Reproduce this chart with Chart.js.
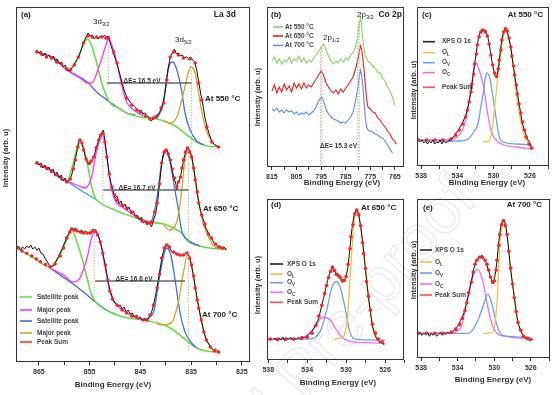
<!DOCTYPE html>
<html>
<head>
<meta charset="utf-8">
<script src="https://cdn.jsdelivr.net/npm/chart.js@4.4.1/dist/chart.umd.min.js"></script>
<style>
  body { margin: 0; background: #fff; width: 554px; height: 395px; overflow: hidden; position: relative; }
  canvas { position: absolute; }
  #wm {
    position: absolute; left: 300px; top: 372px; white-space: nowrap;
    transform: translate(-50%, -50%) rotate(-49deg);
    font: 64px "Liberation Sans", Arial, sans-serif; color: transparent;
    -webkit-text-stroke: 1px #e6e6e6;
  }
</style>
</head>
<body>
<div id="wm">Journal Pre-proof</div>
<canvas id="ca" width="254" height="395" style="left:0;top:0"></canvas>
<canvas id="cb" width="156" height="195" style="left:254px;top:0"></canvas>
<canvas id="cc" width="144" height="195" style="left:410px;top:0"></canvas>
<canvas id="cd" width="156" height="200" style="left:254px;top:195px"></canvas>
<canvas id="ce" width="144" height="200" style="left:410px;top:195px"></canvas>
<script>
const FAM = '"Liberation Sans", Arial, sans-serif';

// ---------- (a) La 3d : [binding energy, intensity] ----------
const laTicks = [825, 830, 835, 840, 845, 850, 855, 860, 865];
const laLabels = [825, 835, 845, 855, 865];

const la550Data = [[865.4,312],[865,309],[864.6,311],[864.2,306],[863.8,309],[863.4,305],[863,307],[862.6,303],[862.2,306],[861.8,301],[861.4,303],[861,298],[860.6,300],[860.2,295],[859.8,297],[859.4,292],[859,291],[858.6,294],[858.2,296],[857.8,300],[857.2,305],[856.6,313],[856.2,319],[855.7,325],[855.3,329],[854.9,326],[854.5,327],[854.1,323],[853.7,325],[853.3,323],[852.9,326],[852.5,324],[852.1,327],[851.7,325],[851.3,326],[850.9,318],[850.3,309],[849.6,298],[849,287],[848.6,279],[848.2,272],[847.7,265],[847.3,262],[846.9,259],[846.5,257],[846.1,255],[845.7,253],[845.3,251],[844.9,252],[844.5,248],[844.1,249],[843.7,246],[843.3,245],[842.9,241],[842.5,243],[842.1,244],[841.7,246],[841.2,250],[840.8,255],[840.4,262],[840,275],[839.6,292],[839.1,305],[838.7,309],[838.3,313],[837.9,308],[837.5,309],[837.1,306],[836.7,307],[836.3,304],[835.9,305],[835.5,303],[835.1,305],[834.7,302],[834.3,300],[833.9,292],[833.5,280],[833.1,268],[832.7,258],[832.3,245],[831.9,236],[831.5,229],[831.1,223],[830.7,219],[830.3,217],[829.9,216],[829.5,214]];
const la550Sum = [[865.4,310],[864.5,308],[863.5,305],[862.5,304],[861.5,300],[860.5,298],[859.5,293],[858.8,292],[858,297],[857.2,305],[856.2,319],[855.4,326],[854.5,325],[853.6,325],[852.6,325],[851.8,324],[851.3,324],[850.3,310],[849.6,299],[848.6,279],[847.7,264],[846.7,257],[845.7,252],[845,250],[844,246],[843.1,243],[842.4,244],[841.8,246],[840.9,254],[840.4,259],[839.8,282],[839.1,305],[838.5,310],[837.5,307],[836.5,304],[835.2,303],[834.2,299],[833.5,279],[832.9,262],[831.9,235],[830.9,220],[829.6,215]];
const la550Bg = [[859.5,292],[857,285],[855.5,280],[853.6,270],[851.6,262],[849.6,255],[847.7,249],[846,247]];
const la550Green = [[865.4,310],[862,304],[858.9,292],[857.2,305],[856.2,318],[855.4,323],[854.5,315],[853.6,299],[852.6,279],[851.6,265],[850.6,257],[849.6,255],[847.7,249],[845,245],[841.8,243],[839.8,240],[837.8,235],[835.8,227],[833.9,220],[831.9,216],[829.6,215]];
const la550Mag = [[865.4,310],[862,304],[859.5,292],[856.9,284],[855.5,279],[854.6,279],[852.9,299],[851.9,315],[851.3,323],[850.6,317],[849.6,299],[848.6,275],[847.7,260],[846.3,252],[844.4,246]];
const la550Blue = [[841.8,243],[840.4,260],[839.8,284],[839.1,299],[838.6,300],[837.8,292],[836.8,269],[836.2,249],[835.2,232],[833.9,221],[832.5,217]];
const la550Gold = [[840.4,241],[839.1,239],[837.8,245],[836.5,269],[835.5,290],[835.1,295],[834.2,289],[833.2,259],[832.2,235],[830.9,220],[829.6,215]];

const la650Data = [[865.4,201],[865,197],[864.6,199],[864.2,194],[863.8,197],[863.4,192],[863,195],[862.6,189],[862.2,193],[861.8,186],[861.4,190],[861,184],[860.6,187],[860.2,181],[859.8,184],[859.4,179],[859,182],[858.6,186],[858.2,193],[857.8,203],[857.4,213],[857,222],[856.6,220],[856.2,213],[855.8,204],[855.4,200],[855,197],[854.6,202],[854.2,204],[853.8,212],[853.4,219],[853,226],[852.6,229],[852.3,232],[852,222],[851.6,206],[851.2,190],[850.8,179],[850.4,172],[850,164],[849.6,166],[849.2,158],[848.8,161],[848.4,155],[848,158],[847.6,152],[847.2,155],[846.8,148],[846.4,151],[846,146],[845.6,147],[845.2,142],[844.8,145],[844.4,139],[844,141],[843.6,137],[843.2,140],[842.8,135],[842.4,142],[842,148],[841.6,160],[841.2,179],[840.8,199],[840.4,209],[840,213],[839.6,210],[839.2,203],[838.8,194],[838.4,184],[838,178],[837.8,172],[837.6,179],[837.2,183],[836.8,193],[836.4,204],[836,211],[835.7,215],[835.3,211],[834.9,206],[834.5,194],[834.1,181],[833.7,166],[833.3,155],[832.9,147],[832.5,141],[832.1,134],[831.7,130],[831.3,126],[830.9,123],[830.5,119],[830.1,118],[829.7,115],[829.3,116],[828.9,113],[828.5,115],[828.1,112]];
const la650Sum = [[865.4,199],[864.5,196],[863.5,194],[862.5,191],[861.5,187],[860.5,183],[859.5,180],[858.8,183],[858.2,193],[857.8,202],[857.3,215],[856.9,222],[856.5,219],[856.2,212],[855.7,203],[855.2,199],[854.7,201],[854.2,205],[853.7,214],[853.2,222],[852.8,227],[852.4,229],[852,220],[851.6,205],[851.1,188],[850.6,175],[850.1,167],[849.6,162],[848.6,157],[847.7,154],[846.7,150],[845.7,145],[844.7,141],[843.7,139],[843.1,139],[842.7,140],[842.2,150],[841.7,159],[841.2,178],[840.8,199],[840.3,210],[839.9,212],[839.5,208],[839.1,202],[838.7,193],[838.3,184],[837.8,175],[837.5,180],[837.1,185],[836.8,194],[836.5,202],[836.1,210],[835.7,214],[835.3,210],[834.9,205],[834.5,194],[834.2,182],[833.8,170],[833.5,159],[832.9,147],[832.3,138],[831.6,128],[831,124],[830.2,118],[829.5,115],[828.8,114]];
const la650Bg = [[859.5,181],[856.5,171],[853.6,162]];
const la650Green = [[865.4,199],[862.5,191],[859.5,181],[858.2,199],[856.9,222],[855.9,209],[855.2,192],[854.6,175],[853.9,164],[853.6,162],[849.6,151],[845.7,144],[843.1,140],[840.4,138],[838.5,134],[836.5,127],[835.9,122],[833.3,116],[830.7,113.5],[828,113]];
const la650Mag = [[865.4,199],[862.5,191],[859.5,181],[857.5,177],[855.9,174],[854.6,185],[853.6,212],[852.4,227],[851.7,209],[850.9,179],[850,162],[848.3,154],[845.7,145],[843.5,140]];
const la650Blue = [[843.1,140],[842.7,142],[841.7,165],[840.8,199],[839.9,212],[839.1,199],[838.3,175],[837.5,152],[836.9,132],[835.6,122],[833.3,116]];
const la650Gold = [[840.4,137],[839.4,132],[837.9,139],[837,165],[836.3,199],[835.7,214],[834.9,205],[834.2,182],[833.5,159],[832.7,140],[831.9,129],[830.7,117],[829.3,113.5],[828,113]];

const la700Data = [[869.3,114],[869,116],[868.6,112],[868.2,115],[867.8,113],[867.4,116],[867,114],[866.6,117],[866.2,113],[865.8,115],[865.4,112],[865,114],[864.6,109],[864.2,108],[863.8,104],[863.4,101],[863,97],[862.6,95],[862.2,96],[861.8,99],[861.4,103],[861,107],[860.6,111],[860.2,116],[859.8,121],[859.4,126],[859,129],[858.6,134],[858.2,132],[857.8,134],[857.4,131],[857,130],[856.6,132],[856.2,129],[855.8,131],[855.4,128],[855,130],[854.6,129],[854.2,133],[853.8,131],[853.4,128],[853,122],[852.6,114],[852.2,104],[851.8,94],[851.4,82],[851,72],[850.6,66],[850.2,60],[849.8,58],[849.4,56],[849,57],[848.6,53],[848.2,55],[847.8,50],[847.4,52],[847,48],[846.6,49],[846.2,45],[845.8,47],[845.4,43],[845,45],[844.6,41],[844.2,44],[843.8,41],[843.4,44],[843,47],[842.6,53],[842.2,62],[841.8,72],[841.4,84],[841,97],[840.6,108],[840.2,114],[839.8,118],[839.4,116],[839,112],[838.6,109],[838.2,110],[837.8,107],[837.4,108],[837,106],[836.6,107],[836.2,108],[835.8,110],[835.4,106],[835,98],[834.6,88],[834.2,76],[833.8,63],[833.4,52],[833,42],[832.6,33],[832.2,25],[831.8,20],[831.4,17],[831,14],[830.6,12],[830.2,13],[829.8,11],[829.4,9]];
const la700Sum = [[869.3,114],[868.3,111],[867.4,108.7],[866.4,106],[865.5,103],[864.7,100.3],[863.7,97.5],[862.8,95.3],[861.8,98],[860.8,106],[860.1,114],[859.5,124],[858.9,130],[858.5,133],[858,132],[857.5,131],[856.8,130],[856.2,129],[855.5,129],[854.9,129],[854.4,131],[853.9,131],[853.4,127],[852.9,120],[852.4,109],[851.9,97],[851.4,82],[851,71],[850.5,63],[849.6,57],[848.6,52],[847.7,49],[846.7,46],[845.7,45],[844.4,42],[843.7,42],[843.1,47],[842.4,57],[841.7,74],[841.2,88],[840.8,104],[840.3,114],[839.8,117],[839.3,115],[838.5,110],[837.8,108],[837.2,107],[836.5,107],[835.8,109],[835.3,104],[834.9,97],[834.5,86],[834.2,74],[833.8,62],[833.5,54],[833,42],[832.5,30],[832,22],[831.2,15],[830.4,11],[829.6,10]];
const la700Bg = [[862.8,94],[858.8,80],[856.2,70],[853.6,59],[851,50],[849.6,47]];
const la700Green = [[869.3,114],[866,104],[862.8,95],[860.8,107],[859.5,122],[858.5,132],[857.5,120],[856.5,104],[855.5,84],[854.6,67],[853.6,59],[851,50],[848.3,45],[844.4,42],[841.7,39],[839.1,34],[836.5,24],[833.9,14],[832,11],[829.6,10]];
const la700Mag = [[862.8,94],[860.1,87],[858.2,80],[856.9,84],[855.5,104],[854.6,124],[853.9,130],[852.9,120],[851.9,94],[851,70],[849.6,57],[847.7,49],[845.7,44],[844,42]];
const la700Blue = [[844.4,42],[842.4,50],[841.4,80],[840.4,107],[839.8,114],[839,107],[838.1,80],[837.2,50],[836.2,30],[834.9,19],[833.9,14]];
const la700Gold = [[841.7,38],[840.4,37],[838.8,40],[837.5,60],[836.5,90],[835.7,107],[834.9,97],[834.2,74],[833.5,54],[832.5,30],[831.2,15],[830.4,11],[829.6,10]];

const laLegend = [['Satellite peak', '#66dd44'], ['Major peak', '#ff33ff'], ['Satellite peak', '#3d6fe0'], ['Major peak', '#d6a12b'], ['Peak Sum', '#ff2a2a']];

// ---------- (b) Co 2p ----------
const coTicks = [765, 770, 775, 780, 785, 790, 795, 800, 805, 810, 815];
const coLabels = [765, 775, 785, 795, 805, 815];
const co550 = [[815,106],[814,110],[813,104],[812,108],[811,103],[810,107],[809,105],[808,110],[807,104],[806,108],[805,106],[804,111],[803,105],[802,109],[801,104],[800,107],[799,105],[798,109],[797,112],[796,116],[795,119],[794,123],[793.5,121],[793,117],[792,111],[791,106],[790,103],[789,106],[788,104],[787,108],[786,105],[785,109],[784,107],[783,112],[782,114],[781,120],[780,132],[779.5,142],[779,150],[778.5,140],[778,127],[777.5,118],[777,111],[776,106],[775,104],[774,101],[773,99],[772,95],[771,94],[770,89],[769,86],[768,80],[767,76],[766,70],[765,62]];
const co650 = [[815,76],[814,82],[813,74],[812,80],[811,75],[810,83],[809,77],[808,81],[807,75],[806,84],[805,79],[804,83],[803,78],[802,84],[801,79],[800,82],[799,80],[798,84],[797,88],[796,92],[795,96],[794,92],[793,84],[792,80],[791,76],[790,74],[789,77],[788,73],[787,78],[786,75],[785,79],[784,82],[783,86],[782,90],[781,98],[780,108],[779.5,115],[779,121],[778.5,118],[778,108],[777.5,96],[777,82],[776.5,68],[776,60],[775,58],[774,55],[773,54],[772,49],[771,47],[770,43],[769,40],[768,36],[767,33],[766,28],[765,26],[764.5,23]];
const co700 = [[815,58],[814,56],[813,59],[812,55],[811,57],[810,54],[809,57],[808,55],[807,56],[806,53],[805,55],[804,52],[803,54],[802,53],[801,55],[800,52],[799,54],[798,56],[797,60],[796,66],[795,70],[794,66],[793,58],[792,53],[791,50],[790,48],[789,47],[788,46],[787,44],[786,45],[785,44],[784,47],[783,50],[782,55],[781,66],[780,80],[779.5,90],[779,97],[778.5,92],[778,80],[777.5,64],[777,48],[776.5,40],[776,37],[775,36],[774,35],[773,33],[772,32],[771,30],[770,29],[769,26],[768,22],[767,18],[766,14]];
const coLegend = [['At 550 °C', '#7ed957'], ['At 650 °C', '#ee1c1c'], ['At 700 °C', '#5b8fd9']];

// ---------- (c)(d)(e) O 1s ----------
const oTicks = [524, 526, 528, 530, 532, 534, 536, 538];
const oLabels = [526, 530, 534, 538];

const o550Data = [[538.5,25],[538.3,27],[538.1,24],[537.9,26],[537.7,23],[537.5,25],[537.3,22],[537.1,25],[536.9,23],[536.7,26],[536.5,22],[536.3,24],[536.1,23],[535.9,26],[535.7,22],[535.5,25],[535.3,23],[535.1,24],[534.9,26],[534.7,25],[534.5,29],[534.3,30],[534.1,34],[533.9,35],[533.7,39],[533.5,42],[533.3,46],[533.1,50],[532.9,57],[532.7,65],[532.5,75],[532.3,88],[532.1,102],[531.9,114],[531.7,127],[531.5,133],[531.3,137],[531.1,135],[530.9,136],[530.7,131],[530.5,123],[530.3,111],[530.1,100],[529.9,92],[529.7,88],[529.5,96],[529.3,112],[529.1,127],[528.9,134],[528.7,139],[528.5,134],[528.3,127],[528.1,118],[527.9,104],[527.7,92],[527.5,80],[527.3,68],[527.1,57],[526.9,46],[526.7,38],[526.5,33],[526.3,27],[526.1,25],[525.9,20],[525.8,17]];
const o550Sum = [[538.3,26],[537.4,26],[536.5,26],[535.6,26],[534.7,27],[534.2,31],[533.8,36],[533.4,42],[533.1,49],[532.9,56],[532.7,64],[532.5,74],[532.4,82],[532.2,92],[532.1,102],[531.9,112],[531.8,121],[531.6,129],[531.4,134],[531.2,136],[530.9,134],[530.7,130],[530.5,122],[530.3,111],[530.1,101],[529.9,93],[529.7,90],[529.5,97],[529.4,106],[529.2,116],[529.1,126],[528.9,134],[528.7,137],[528.5,135],[528.3,128],[528.1,119],[528,110],[527.8,100],[527.7,91],[527.5,81],[527.4,72],[527.2,62],[527,53],[526.8,44],[526.6,36],[526.4,29],[526.1,22],[525.8,18]];
const o550L = [[531.2,24],[530.6,25],[530.2,34],[529.9,59],[529.6,84],[529.4,99],[529.1,121],[528.9,131],[528.7,137],[528.5,134],[528.2,122],[527.8,99],[527.5,73],[527.1,49],[526.7,33],[526.2,23],[525.8,18]];
const o550V = [[538.4,26],[535,25],[533.6,25],[532.8,27],[532.2,34],[531.7,43],[531.4,60],[531.1,76],[530.9,89],[530.7,93],[530.4,87],[530.2,76],[529.9,58],[529.7,46],[529.5,34],[529.3,27],[528.6,23],[527.5,22],[525.8,21]];
const o550C = [[538.4,26],[536,26],[534.5,27],[533.8,31],[533.3,39],[532.8,59],[532.3,89],[532.1,100],[531.9,103],[531.7,99],[531.4,90],[531.1,79],[530.6,49],[530.3,36],[530,29],[529.5,24],[528.9,21],[527.5,19],[525.8,17]];

const o650Data = [[537.5,20],[537.3,22],[537.1,19],[536.9,22],[536.7,20],[536.5,23],[536.3,19],[536.1,22],[535.9,21],[535.7,23],[535.5,20],[535.3,22],[535.1,21],[534.9,23],[534.7,21],[534.5,24],[534.3,22],[534.1,24],[533.9,25],[533.7,27],[533.5,29],[533.3,32],[533.1,36],[532.9,40],[532.7,47],[532.5,55],[532.3,63],[532.1,72],[531.9,80],[531.7,87],[531.5,92],[531.4,95],[531.2,90],[531,87],[530.8,86],[530.6,83],[530.4,78],[530.2,80],[530,84],[529.8,94],[529.6,113],[529.4,132],[529.2,145],[529,150],[528.9,152],[528.7,146],[528.5,134],[528.3,119],[528.1,100],[527.9,80],[527.7,63],[527.5,48],[527.3,34],[527.1,27],[526.9,22],[526.7,20],[526.5,17],[526.3,19],[526.1,15]];
const o650Sum = [[537.8,21],[537,21],[536.2,21],[535.4,21],[534.6,22],[534,23],[533.5,27],[533.1,35],[532.8,44],[532.5,55],[532.2,67],[532,75],[531.8,83],[531.6,89],[531.4,93],[531.2,90],[531,86],[530.8,85],[530.6,83],[530.4,80],[530.2,80],[530,84],[529.8,96],[529.6,112],[529.5,124],[529.3,136],[529.1,147],[528.9,151],[528.7,146],[528.5,135],[528.3,118],[528.2,107],[528,92],[527.9,79],[527.7,64],[527.5,50],[527.3,36],[527,27],[526.7,21],[526.3,18]];
const o650L = [[531.2,21],[530.6,22],[529.9,38],[529.6,82],[529.3,125],[529.1,145],[528.9,150],[528.7,146],[528.5,135],[528.3,118],[528,92],[527.7,64],[527.5,50],[527.3,36],[527,27],[526.7,21],[526.2,17]];
const o650V = [[538.1,21],[533.9,21],[532.7,28],[532,50],[531.5,72],[531,79],[530.6,73],[530.1,52],[529.6,28],[529.1,21],[526,20]];
const o650C = [[538.1,21],[534.9,21],[533.2,33],[532.7,41],[532.2,43],[531.6,40],[531.1,32],[530.4,23],[529.1,18],[526,17]];

const o700Data = [[538.5,26],[538.3,24],[538.1,26],[537.9,23],[537.7,25],[537.5,24],[537.3,26],[537.1,22],[536.9,25],[536.7,23],[536.5,26],[536.3,22],[536.1,24],[535.9,26],[535.7,23],[535.5,25],[535.3,24],[535.1,26],[534.9,25],[534.7,27],[534.5,27],[534.3,30],[534.1,31],[533.9,34],[533.7,38],[533.5,41],[533.3,46],[533.1,53],[532.9,61],[532.7,70],[532.5,78],[532.3,87],[532.1,96],[531.9,99],[531.7,102],[531.5,103],[531.3,104],[531.1,100],[530.9,97],[530.7,91],[530.5,85],[530.3,79],[530.1,75],[529.9,84],[529.7,98],[529.5,118],[529.3,132],[529.1,139],[528.9,140],[528.7,131],[528.5,117],[528.3,98],[528.1,82],[527.9,68],[527.7,54],[527.5,41],[527.3,33],[527.1,27],[526.9,24],[526.7,22],[526.5,19],[526.3,21],[526.1,17]];
const o700Sum = [[538.3,25],[537.4,25],[536.5,25],[535.6,25],[534.7,26],[534.2,29],[533.8,34],[533.5,40],[533.2,48],[533,56],[532.8,66],[532.5,77],[532.3,87],[532.1,95],[531.9,99],[531.6,102],[531.3,102],[531,99],[530.8,95],[530.6,89],[530.4,82],[530.2,77],[530,78],[529.8,89],[529.7,99],[529.5,114],[529.4,125],[529.2,135],[529,139],[528.8,134],[528.6,125],[528.4,108],[528.2,91],[528,75],[527.8,61],[527.6,47],[527.4,36],[527.1,28],[526.8,22],[526.4,20],[526,19]];
const o700L = [[531.2,25],[530.2,26],[529.7,56],[529.4,113],[529.1,136],[528.9,139],[528.6,126],[528.3,96],[527.8,63],[527.5,40],[527,26],[526.5,20],[526.1,19]];
const o700V = [[538.4,25],[533,25],[532.6,26],[531.7,40],[531.1,56],[530.7,65],[530.2,53],[529.7,33],[529.1,23],[526.1,21]];
const o700C = [[538.4,25],[534.5,26],[533.7,30],[533,56],[532.4,80],[531.9,90],[531.3,80],[530.8,56],[530.2,33],[529.3,23],[526.1,20]];

const oLegend = [['XPS O 1s', '', '#222'], ['O', 'L', '#f2c040'], ['O', 'V', '#6aa2ea'], ['O', 'C', '#f06cf0'], ['Peak Sum', '', '#ff5050']];

// ---------- helpers ----------
const smooth = (data, color, w = 1.3) => ({ data, borderColor: color, borderWidth: w, pointRadius: 0, cubicInterpolationMode: 'monotone', fill: false });
const raw = (data, color, w = 1) => ({ data, borderColor: color, borderWidth: w, pointRadius: 0, tension: 0, fill: false });
const dots = (data, r = 1.8) => ({ data, showLine: false, pointRadius: r, pointBackgroundColor: '#ff2020', pointBorderWidth: 0, borderColor: '#ff2020' });

function drawText(ctx, t) {
  ctx.save();
  ctx.translate(t.x, t.y);
  if (t.r) ctx.rotate(t.r);
  const main = (t.b === false ? '' : 'bold ') + t.z + 'px ' + FAM;
  const subf = (t.b === false ? '' : 'bold ') + (t.z * 0.7).toFixed(1) + 'px ' + FAM;
  ctx.font = main;
  const w = ctx.measureText(t.t).width;
  let sw = 0;
  if (t.s) { ctx.font = subf; sw = ctx.measureText(t.s).width; ctx.font = main; }
  const x0 = t.a === 'center' ? -(w + sw) / 2 : t.a === 'right' ? -(w + sw) : 0;
  ctx.fillStyle = t.c || '#222';
  ctx.textBaseline = 'middle';
  ctx.textAlign = 'left';
  ctx.fillText(t.t, x0, 0);
  if (t.s) { ctx.font = subf; ctx.fillText(t.s, x0 + w, t.z * 0.35); }
  ctx.restore();
}

function decor(spec) {
  return {
    id: 'decor',
    afterDatasetsDraw(chart) {
      const { ctx, chartArea: a, scales: { x, y } } = chart;
      ctx.save();
      ctx.beginPath(); ctx.rect(a.left, a.top, a.width, a.height); ctx.clip();
      (spec.lines || []).forEach(l => {
        ctx.beginPath();
        ctx.strokeStyle = l.c; ctx.lineWidth = l.w; ctx.setLineDash(l.d || []);
        ctx.moveTo(x.getPixelForValue(l.p[0][0]), y.getPixelForValue(l.p[0][1]));
        ctx.lineTo(x.getPixelForValue(l.p[1][0]), y.getPixelForValue(l.p[1][1]));
        ctx.stroke();
      });
      ctx.restore();
    },
    afterDraw(chart) {
      const { ctx, chartArea: a } = chart;
      ctx.save();
      ctx.strokeStyle = '#333'; ctx.lineWidth = 1;
      ctx.strokeRect(Math.round(a.left) + 0.5, Math.round(a.top) + 0.5, Math.round(a.width) - 1, Math.round(a.height) - 1);
      (spec.texts || []).forEach(t => drawText(ctx, t));
      const lg = spec.legend;
      if (lg) {
        lg.items.forEach((it, i) => {
          const yy = lg.ys[i];
          ctx.beginPath(); ctx.strokeStyle = it.c; ctx.lineWidth = 1.6;
          ctx.moveTo(lg.x1, yy); ctx.lineTo(lg.x2, yy); ctx.stroke();
          drawText(ctx, { t: it.t, s: it.s, x: lg.tx, y: yy, z: lg.z, c: '#444' });
        });
      }
      ctx.restore();
    }
  };
}

function makeChart(id, cfg) {
  return new Chart(document.getElementById(id), {
    type: 'line',
    data: { datasets: cfg.datasets },
    options: {
      responsive: false, animation: false, devicePixelRatio: 1,
      layout: { padding: cfg.pad },
      plugins: { legend: { display: false }, tooltip: { enabled: false } },
      scales: {
        x: {
          type: 'linear', reverse: true, min: cfg.xMin, max: cfg.xMax,
          border: { display: false },
          grid: { drawOnChartArea: false, drawTicks: true, tickLength: 3, color: '#333' },
          ticks: {
            padding: 3, color: '#333', autoSkip: false, maxRotation: 0,
            font: { family: FAM, size: 7, weight: 'bold' },
            callback: v => cfg.labels.includes(v) ? String(v) : ''
          },
          afterBuildTicks: s => { s.ticks = cfg.ticks.map(v => ({ value: v })); },
          afterFit: s => { s.height = cfg.xH; s.paddingLeft = 0; s.paddingRight = 0; }
        },
        y: { display: false, min: 0, max: cfg.yMax }
      }
    },
    plugins: [decor(cfg.deco)]
  });
}

const dotted = '#c2b496';
const yTitle = (x, y) => ({ t: 'Intensity (arb. u)', x, y, z: 7.5, r: -Math.PI / 2, a: 'center', c: '#333' });
const xTitle = (x, y) => ({ t: 'Binding Energy (eV)', x, y, z: 8, a: 'center', c: '#333' });

// ---------- (a) ----------
makeChart('ca', {
  xMin: 823.4, xMax: 869.5, yMax: 355, xH: 33,
  pad: { left: 16, top: 7, right: 4, bottom: 0 },
  ticks: laTicks, labels: laLabels,
  datasets: [
    dots(la550Sum), dots(la650Sum), dots(la700Sum),
    raw(la550Data, '#111'), raw(la650Data, '#111'), raw(la700Data, '#111'),
    smooth(la550Gold, '#d6a12b'), smooth(la650Gold, '#d6a12b'), smooth(la700Gold, '#d6a12b'),
    smooth(la550Blue, '#3d6fe0'), smooth(la650Blue, '#3d6fe0'), smooth(la700Blue, '#3d6fe0'),
    smooth(la550Mag, '#ff33ff'), smooth(la650Mag, '#ff33ff'), smooth(la700Mag, '#ff33ff'),
    smooth(la550Green, '#66dd44', 1.6), smooth(la650Green, '#66dd44', 1.6), smooth(la700Green, '#66dd44', 1.6),
    smooth(la550Bg, '#5a5ee0'), smooth(la650Bg, '#33a8e0'), smooth(la700Bg, '#4a64e0')
  ],
  deco: {
    lines: [
      { p: [[851.3, 322], [851.3, 276]], c: dotted, w: 1, d: [1.5, 1.5] },
      { p: [[834.9, 295], [834.9, 215]], c: dotted, w: 1, d: [1.5, 1.5] },
      { p: [[852.4, 227], [852.4, 159]], c: dotted, w: 1, d: [1.5, 1.5] },
      { p: [[835.5, 212], [835.5, 120]], c: dotted, w: 1, d: [1.5, 1.5] },
      { p: [[854.1, 132], [854.1, 64]], c: dotted, w: 1, d: [1.5, 1.5] },
      { p: [[835.5, 109], [835.5, 10]], c: dotted, w: 1, d: [1.5, 1.5] },
      { p: [[851.6, 279], [834.9, 279]], c: '#666', w: 1.5 },
      { p: [[852.3, 172], [835.5, 172]], c: '#666', w: 1.5 },
      { p: [[853.9, 81], [836.2, 81]], c: '#666', w: 1.5 }
    ],
    texts: [
      { t: '(a)', x: 21, y: 15, z: 8 },
      { t: 'La 3d', x: 236, y: 15, z: 8.5, a: 'right' },
      { t: '3d', s: '3/2', x: 93, y: 22, z: 8, b: false },
      { t: '3d', s: '5/2', x: 175, y: 40, z: 8, b: false },
      { t: '\u0394E= 16.5 eV', x: 142, y: 81, z: 6.5, a: 'center', c: '#333' },
      { t: '\u0394E= 16.7 eV', x: 137, y: 188, z: 6.5, a: 'center', c: '#333' },
      { t: '\u0394E= 16.6 eV', x: 134, y: 279, z: 6.5, a: 'center', c: '#333' },
      { t: 'At 550 °C', x: 205, y: 99, z: 8 },
      { t: 'At 650 °C', x: 203, y: 209, z: 8 },
      { t: 'At 700 °C', x: 202, y: 315, z: 8 },
      yTitle(6, 158),
      xTitle(113, 385)
    ],
    legend: { items: laLegend.map(([t, c]) => ({ t, c })), x1: 20, x2: 32, tx: 37, z: 6.5, ys: [297, 310, 321, 333, 342] }
  }
});

// ---------- (b) ----------
makeChart('cb', {
  xMin: 761.3, xMax: 817, yMax: 160, xH: 28,
  pad: { left: 13, top: 7, right: 6, bottom: 0 },
  ticks: coTicks, labels: coLabels,
  datasets: [raw(co700, '#5b8fd9', 1.1), raw(co650, '#ee1c1c', 1.1), raw(co550, '#7ed957', 1.1)],
  deco: {
    lines: [
      { p: [[795.3, 121], [795.3, 2]], c: dotted, w: 1, d: [1.5, 1.5] },
      { p: [[794.7, 119], [794.7, 2]], c: dotted, w: 1, d: [1.5, 1.5] },
      { p: [[780.1, 146], [780.1, 2]], c: dotted, w: 1, d: [1.5, 1.5] },
      { p: [[779.5, 146], [779.5, 2]], c: dotted, w: 1, d: [1.5, 1.5] }
    ],
    texts: [
      { t: '(b)', x: 17, y: 15, z: 8 },
      { t: 'Co 2p', x: 148, y: 15, z: 8.5, a: 'right' },
      { t: '2p', s: '3/2', x: 103, y: 15, z: 8, b: false },
      { t: '2p', s: '1/2', x: 69, y: 38, z: 8, b: false },
      { t: '\u0394E= 15.3 eV', x: 66, y: 146, z: 6.5, c: '#333' },
      yTitle(4, 97),
      xTitle(88, 183)
    ],
    legend: { items: coLegend.map(([t, c]) => ({ t, c })), x1: 19, x2: 29, tx: 31, z: 6.5, ys: [27, 36, 45.5] }
  }
});

// ---------- (c)(d)(e) ----------
const oDatasets = (data, sum, L, V, C) => [
  dots(sum), raw(data, '#111'),
  smooth(L, '#f2c040'), smooth(V, '#6aa2ea'), smooth(C, '#f06cf0')
];
const oLegendItems = oLegend.map(([t, s, c]) => ({ t, s, c }));

makeChart('cc', {
  xMin: 523.9, xMax: 538.45, yMax: 159, xH: 29,
  pad: { left: 7, top: 7, right: 5, bottom: 0 },
  ticks: oTicks, labels: oLabels,
  datasets: oDatasets(o550Data, o550Sum, o550L, o550V, o550C),
  deco: {
    texts: [
      { t: '(c)', x: 12, y: 15, z: 8 },
      { t: 'At 550 °C', x: 133, y: 15, z: 8, a: 'right' },
      yTitle(4, 90),
      xTitle(77, 183)
    ],
    legend: { items: oLegendItems, x1: 13, x2: 25, tx: 32, z: 6.5, ys: [41.7, 52.7, 62.7, 72.7, 87.3] }
  }
});

makeChart('cd', {
  xMin: 524.05, xMax: 538.13, yMax: 162, xH: 35,
  pad: { left: 13, top: 3, right: 6, bottom: 0 },
  ticks: oTicks, labels: oLabels,
  datasets: oDatasets(o650Data, o650Sum, o650L, o650V, o650C),
  deco: {
    texts: [
      { t: '(d)', x: 17, y: 10, z: 8 },
      { t: 'At 650 °C', x: 107, y: 13, z: 8 },
      yTitle(4, 90),
      xTitle(84, 188)
    ],
    legend: { items: oLegendItems, x1: 16, x2: 29, tx: 33, z: 6.5, ys: [69, 79, 87.7, 97.3, 107.3] }
  }
});

makeChart('ce', {
  xMin: 523.9, xMax: 538.45, yMax: 161, xH: 37,
  pad: { left: 7, top: 2, right: 4, bottom: 0 },
  ticks: oTicks, labels: oLabels,
  datasets: oDatasets(o700Data, o700Sum, o700L, o700V, o700C),
  deco: {
    texts: [
      { t: '(e)', x: 13, y: 13, z: 8 },
      { t: 'At 700 °C', x: 132, y: 10, z: 8, a: 'right' },
      yTitle(4, 75),
      xTitle(83, 185)
    ],
    legend: { items: oLegendItems, x1: 10, x2: 22, tx: 25, z: 6.5, ys: [55, 67, 78, 89, 100] }
  }
});
</script>
</body>
</html>
